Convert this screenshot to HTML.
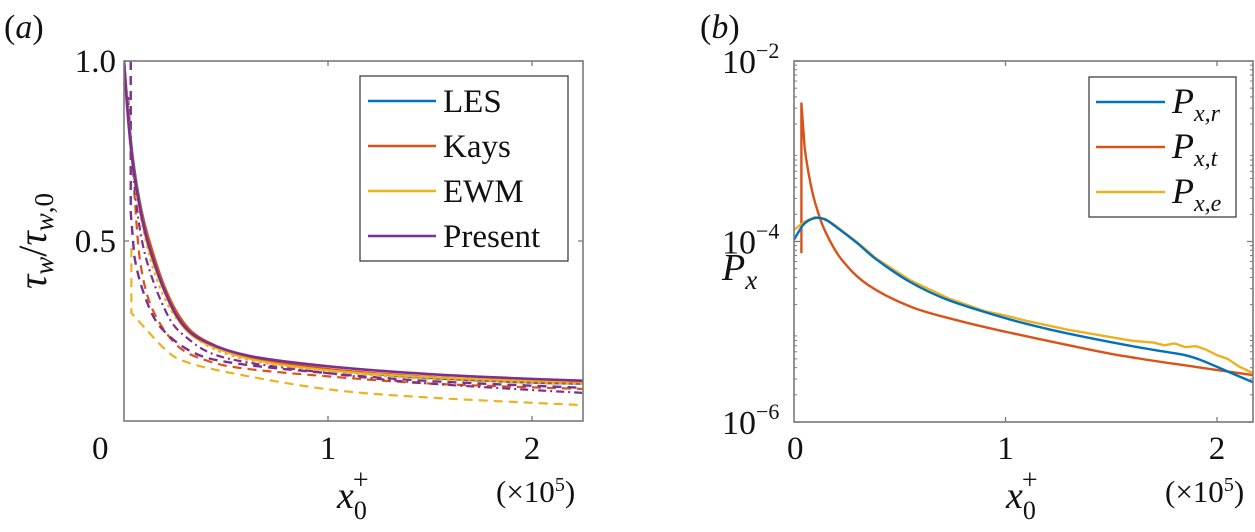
<!DOCTYPE html>
<html><head><meta charset="utf-8">
<style>
html,body{margin:0;padding:0;background:#fff;}
svg{display:block;}
text{font-family:"Liberation Serif",serif;fill:#111;}
</style></head>
<body>
<svg id="fig" width="1255" height="532" viewBox="0 0 1255 532">
<g id="pa"></g>
<g id="pb"></g>
</svg>
<script>
// ---------- Panel (a) data: x in 1e5 units, y = tau_w / tau_w,0 ----------
const lesX=[0,0.02,0.045,0.08,0.123,0.2,0.285,0.4,0.62,1.0,1.5,2.0,2.25];
const lesY=[1.0,0.86,0.722,0.6,0.5,0.37,0.275,0.22,0.175,0.142,0.12,0.107,0.104];
const kaysX=[0,0.02,0.045,0.08,0.125,0.2,0.29,0.4,0.62,1.0,1.5,2.0,2.25];
const kaysY=[1.0,0.85,0.715,0.595,0.498,0.37,0.275,0.222,0.177,0.144,0.122,0.109,0.106];
const ewmX=[0,0.02,0.045,0.08,0.12,0.2,0.285,0.4,0.62,1.0,1.5,2.0,2.25];
const ewmY=[1.0,0.84,0.7,0.58,0.48,0.355,0.265,0.215,0.172,0.141,0.122,0.112,0.109];
const presX=[0,0.02,0.045,0.08,0.12,0.2,0.285,0.4,0.62,1.0,1.5,2.0,2.25];
const presY=[1.0,0.84,0.705,0.585,0.49,0.36,0.27,0.22,0.18,0.152,0.13,0.117,0.112];
const presDashX=[0.033,0.033,0.05,0.1,0.18,0.34,0.55,1.0,1.5,2.25];
const presDashY=[1.0,0.58,0.46,0.35,0.26,0.19,0.16,0.133,0.111,0.092];
const kaysDashX=[0.05,0.08,0.14,0.26,0.41,0.6,1.0,1.5,2.25];
const kaysDashY=[0.64,0.44,0.31,0.21,0.167,0.145,0.124,0.104,0.089];
const ewmDashX=[0.036,0.036,0.1,0.2,0.29,0.52,1.0,1.5,2.25];
const ewmDashY=[0.48,0.30,0.26,0.2,0.167,0.134,0.088,0.065,0.044];
const presDotX=[0.02,0.05,0.1,0.2,0.3,0.5,1.0,1.5,2.25];
const presDotY=[0.9,0.66,0.47,0.31,0.235,0.175,0.133,0.104,0.078];
const ewmDotX=[0.01,0.04,0.08,0.15,0.25,0.4,0.62,1.0,1.5,2.25];
const ewmDotY=[0.95,0.72,0.57,0.41,0.29,0.212,0.168,0.139,0.116,0.103];
const aXTicks=[1,2];
const aYTicks=[0.5,1.0];
const aYTickLabels=["0.5","1.0"];
const aLegend=["LES","Kays","EWM","Present"];

// ---------- Panel (b) data: x in 1e5 units, log10(P_x) ----------
const prX=[0,0.02,0.05,0.1,0.15,0.2,0.3,0.39,0.55,0.73,1.0,1.2,1.4,1.6,1.75,1.85,1.93,2.05,2.17];
const prLog=[-3.98,-3.9,-3.8,-3.74,-3.76,-3.84,-4.02,-4.2,-4.45,-4.65,-4.85,-4.97,-5.07,-5.16,-5.22,-5.26,-5.32,-5.44,-5.56];
const ptX=[0.035,0.035,0.05,0.08,0.11,0.15,0.225,0.35,0.56,0.8,1.0,1.3,1.56,1.9,2.17];
const ptLog=[-4.13,-2.47,-2.95,-3.38,-3.65,-3.9,-4.2,-4.48,-4.73,-4.89,-5.0,-5.15,-5.27,-5.39,-5.48];
const peX=[0,0.05,0.1,0.15,0.2,0.3,0.39,0.55,0.73,0.9,1.0,1.1,1.2,1.3,1.4,1.5,1.6,1.7,1.75,1.8,1.85,1.9,1.95,2.0,2.05,2.1,2.17];
const peLog=[-3.87,-3.78,-3.73,-3.75,-3.83,-4.01,-4.19,-4.43,-4.63,-4.77,-4.82,-4.88,-4.93,-4.98,-5.02,-5.06,-5.1,-5.12,-5.15,-5.13,-5.17,-5.16,-5.2,-5.26,-5.3,-5.38,-5.46];
const bXTicks=[1,2];
const bYDecades=[-6,-4,-2];
const bLegend=["r","t","e"];

const NS="http://www.w3.org/2000/svg";
function mk(parent,tag,attrs){const e=document.createElementNS(NS,tag);for(const k in attrs)e.setAttribute(k,attrs[k]);parent.appendChild(e);return e;}
const C={blue:"#0072BD",red:"#D95319",yel:"#EDB120",pur:"#7E2F8E",ax:"#7a7a7a"};

function smoothPath(pts){
  let d="M"+pts[0][0].toFixed(2)+","+pts[0][1].toFixed(2);
  for(let i=0;i<pts.length-1;i++){
    const p0=pts[i-1]||pts[i],p1=pts[i],p2=pts[i+1],p3=pts[i+2]||p2;
    if(Math.abs(p1[0]-p2[0])<0.5||Math.abs(p0[0]-p1[0])<0.5&&i>0){d+=" L"+p2[0].toFixed(2)+","+p2[1].toFixed(2);continue;}
    const c1=[p1[0]+(p2[0]-p0[0])/6,p1[1]+(p2[1]-p0[1])/6];
    const c2=[p2[0]-(p3[0]-p1[0])/6,p2[1]-(p3[1]-p1[1])/6];
    d+=" C"+c1[0].toFixed(2)+","+c1[1].toFixed(2)+" "+c2[0].toFixed(2)+","+c2[1].toFixed(2)+" "+p2[0].toFixed(2)+","+p2[1].toFixed(2);
  }
  return d;
}
function linPath(pts){return pts.map((p,i)=>(i?"L":"M")+p[0].toFixed(2)+","+p[1].toFixed(2)).join(" ");}

// ===== Panel a =====
const pa=document.getElementById('pa');
const A={l:124,r:583,t:61,b:421,xmax:2.25};
const ax=x=>A.l+(x/A.xmax)*(A.r-A.l);
const ay=v=>A.b-v*(A.b-A.t);
let clipA=mk(pa,'clipPath',{id:'ca'});mk(clipA,'rect',{x:A.l,y:A.t,width:A.r-A.l,height:A.b-A.t});
function seriesA(xs,ys,col,dash,name,w){
  const p=mk(pa,'path',{d:smoothPath(xs.map((x,i)=>[ax(x),ay(ys[i])])),fill:'none',stroke:col,'stroke-width':w||2.4,'stroke-dasharray':dash||'none','clip-path':'url(#ca)'});
  
  
}
seriesA(ewmDashX,ewmDashY,C.yel,"9,6","ewm-dashed-line",2.2);
seriesA(kaysDashX,kaysDashY,C.red,"9,6","kays-dashed-line",2.2);
seriesA(presDashX,presDashY,C.pur,"9,6","present-dashed-line",2.4);
seriesA(presDotX,presDotY,C.pur,"8,4,2,4","present-dashdot-line",2.2);
seriesA(lesX,lesY,C.blue,null,"les-line",2.6);
seriesA(kaysX,kaysY,C.red,null,"kays-line",2.6);
seriesA(ewmX,ewmY,C.yel,null,"ewm-line",2);
seriesA(ewmDotX,ewmDotY,C.yel,"3,4","ewm-dotted-line",2);
seriesA(presX,presY,C.pur,null,"present-line",2.6);
let fa=mk(pa,'rect',{x:A.l,y:A.t,width:A.r-A.l,height:A.b-A.t,fill:'none',stroke:C.ax,'stroke-width':1.6});

aXTicks.forEach(t=>{mk(pa,'line',{x1:ax(t),x2:ax(t),y1:A.b,y2:A.b-5,stroke:C.ax,'stroke-width':1.3});mk(pa,'line',{x1:ax(t),x2:ax(t),y1:A.t,y2:A.t+5,stroke:C.ax,'stroke-width':1.3});
  const tx=mk(pa,'text',{x:ax(t),y:459,'font-size':33,'text-anchor':'middle'});tx.textContent=String(t);
  });
aYTicks.forEach((t,i)=>{mk(pa,'line',{x1:A.l,x2:A.l+5,y1:ay(t),y2:ay(t),stroke:C.ax,'stroke-width':1.3});mk(pa,'line',{x1:A.r,x2:A.r-5,y1:ay(t),y2:ay(t),stroke:C.ax,'stroke-width':1.3});
  const tx=mk(pa,'text',{x:116,y:ay(t)+11,'font-size':33,'text-anchor':'end'});tx.textContent=aYTickLabels[i];
  });
let lga=mk(pa,'g',{});
mk(lga,'rect',{x:360,y:76,width:208,height:185,fill:'#fff',stroke:'#333','stroke-width':1.2});
[C.blue,C.red,C.yel,C.pur].forEach((c,i)=>{const y=101+45*i;
  mk(lga,'line',{x1:368,x2:436,y1:y,y2:y,stroke:c,'stroke-width':2.4});
  const t=mk(lga,'text',{x:443,y:y+11,'font-size':33});t.textContent=aLegend[i];
  });
</script>
<svg style="position:absolute;left:0;top:0" width="1255" height="532">
<text x="4" y="38" font-size="34" font-family="Liberation Serif">(<tspan font-style="italic">a</tspan>)</text>
<text x="92" y="459" font-size="33" font-family="Liberation Serif">0</text>
<text transform="translate(46,241) rotate(-90)" text-anchor="middle" font-size="40" font-family="Liberation Serif"><tspan font-style="italic">τ</tspan><tspan font-style="italic" font-size="27" dy="7">w</tspan><tspan dy="-7">/</tspan><tspan font-style="italic">τ</tspan><tspan font-size="27" dy="7"><tspan font-style="italic">w</tspan>,0</tspan></text>
<text x="337" y="508" font-size="38" font-style="italic" font-family="Liberation Serif">x<tspan font-size="26" font-style="normal" dy="11">0</tspan><tspan font-size="28" font-style="normal" dx="-14" dy="-30">+</tspan></text>
<text x="496" y="502" font-size="31" font-family="Liberation Serif">(×10<tspan font-size="20" dy="-11">5</tspan><tspan dy="11">)</tspan></text>
<text x="700" y="38" font-size="34" font-family="Liberation Serif">(<tspan font-style="italic">b</tspan>)</text>
<text x="722" y="280" font-size="38" font-style="italic" font-family="Liberation Serif">P<tspan font-size="27" dy="9">x</tspan></text>
<text x="787" y="459" font-size="33" font-family="Liberation Serif">0</text>
<text x="1006" y="508" font-size="38" font-style="italic" font-family="Liberation Serif">x<tspan font-size="26" font-style="normal" dy="11">0</tspan><tspan font-size="28" font-style="normal" dx="-14" dy="-30">+</tspan></text>
<text x="1165" y="502" font-size="31" font-family="Liberation Serif">(×10<tspan font-size="20" dy="-11">5</tspan><tspan dy="11">)</tspan></text>
</svg>
<script>
// ===== Panel b =====
const pb=document.getElementById('pb');
const B={l:794,r:1253,t:61,b:422,xmax:2.17,lmin:-6,lmax:-2};
const bx=x=>B.l+(x/B.xmax)*(B.r-B.l);
const by=l=>B.b-(l-B.lmin)/(B.lmax-B.lmin)*(B.b-B.t);
let clipB=mk(pb,'clipPath',{id:'cb'});mk(clipB,'rect',{x:B.l,y:B.t,width:B.r-B.l+1,height:B.b-B.t});
function seriesB(xs,ls,col,name,smooth){
  const pts=xs.map((x,i)=>[bx(x),by(ls[i])]);
  const p=mk(pb,'path',{d:smooth?smoothPath(pts):linPath(pts),fill:'none',stroke:col,'stroke-width':2.4,'stroke-linejoin':'round','clip-path':'url(#cb)'});
  
  
}
seriesB(ptX,ptLog,C.red,"px-t-line",true);
seriesB(peX,peLog,C.yel,"px-e-line",false);
seriesB(prX,prLog,C.blue,"px-r-line",true);
let fb=mk(pb,'rect',{x:B.l,y:B.t,width:B.r-B.l,height:B.b-B.t,fill:'none',stroke:C.ax,'stroke-width':1.6});

bXTicks.forEach(t=>{mk(pb,'line',{x1:bx(t),x2:bx(t),y1:B.b,y2:B.b-5,stroke:C.ax,'stroke-width':1.3});mk(pb,'line',{x1:bx(t),x2:bx(t),y1:B.t,y2:B.t+5,stroke:C.ax,'stroke-width':1.3});
  const tx=mk(pb,'text',{x:bx(t),y:459,'font-size':33,'text-anchor':'middle'});tx.textContent=String(t);
  });
for(let d=B.lmin;d<B.lmax;d++){for(let k=2;k<=9;k++){const y=by(d+Math.log10(k));
  mk(pb,'line',{x1:B.l,x2:B.l+3,y1:y,y2:y,stroke:C.ax,'stroke-width':1});mk(pb,'line',{x1:B.r,x2:B.r-3,y1:y,y2:y,stroke:C.ax,'stroke-width':1});}}
bYDecades.forEach(d=>{const y=by(d);
  mk(pb,'line',{x1:B.l,x2:B.l+6,y1:y,y2:y,stroke:C.ax,'stroke-width':1.3});mk(pb,'line',{x1:B.r,x2:B.r-6,y1:y,y2:y,stroke:C.ax,'stroke-width':1.3});
  const tx=mk(pb,'text',{x:722,y:y+12,'font-size':34});
  
  tx.textContent="10";const s=mk(tx,'tspan',{'font-size':22,dy:-15});s.textContent="−"+Math.abs(d);});
let lgb=mk(pb,'g',{});
mk(lgb,'rect',{x:1089,y:77,width:147,height:140,fill:'#fff',stroke:'#333','stroke-width':1.2});
[C.blue,C.red,C.yel].forEach((c,i)=>{const y=102+45*i;
  mk(lgb,'line',{x1:1096,x2:1165,y1:y,y2:y,stroke:c,'stroke-width':2.4});
  const t=mk(lgb,'text',{x:1172,y:y+11,'font-size':36,'font-style':'italic'});
  
  t.textContent="P";const s=mk(t,'tspan',{'font-size':24,dy:8});s.textContent="x,"+bLegend[i];});
</script>
</body></html>
